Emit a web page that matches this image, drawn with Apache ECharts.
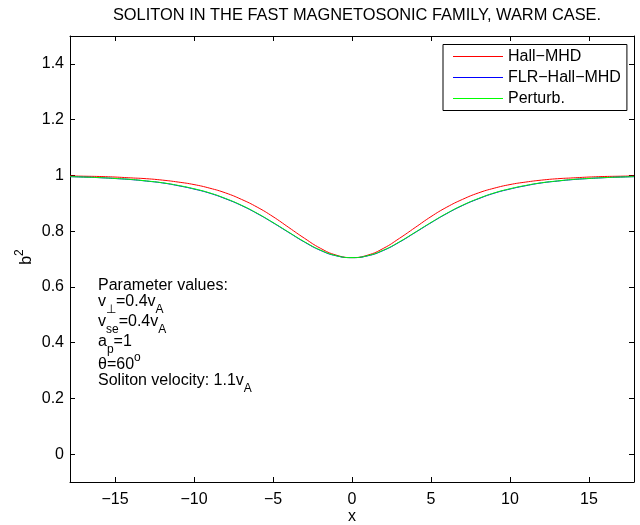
<!DOCTYPE html>
<html>
<head>
<meta charset="utf-8">
<script src="https://cdn.jsdelivr.net/npm/echarts@6/dist/echarts.min.js"></script>
<style>
html,body{margin:0;padding:0;background:#fff;}
#chart{width:640px;height:525px;}
</style>
</head>
<body>
<div id="chart"></div>
<script>
var xValues = [-17.85,-17,-16,-15,-14,-13,-12,-11,-10,-9,-8,-7,-6,-5,-4,-3,-2,-1,0,1,2,3,4,5,6,7,8,9,10,11,12,13,14,15,16,17,17.85];
var hallMHD = [0.998,0.997,0.996,0.994,0.991,0.988,0.983,0.976,0.967,0.954,0.937,0.914,0.886,0.852,0.813,0.774,0.7385,0.714,0.705,0.714,0.7385,0.774,0.813,0.852,0.886,0.914,0.937,0.954,0.967,0.976,0.983,0.988,0.991,0.994,0.996,0.997,0.998];
var flrHallMHD = [0.9954,0.9939,0.9918,0.9887,0.985,0.9795,0.973,0.963,0.951,0.936,0.916,0.892,0.863,0.830,0.795,0.7605,0.731,0.7115,0.705,0.7115,0.731,0.7605,0.795,0.830,0.863,0.892,0.916,0.936,0.951,0.963,0.973,0.9795,0.985,0.9887,0.9918,0.9939,0.9954];
var perturb = [0.9955,0.994,0.992,0.989,0.9855,0.980,0.9735,0.964,0.952,0.937,0.917,0.893,0.864,0.831,0.796,0.7615,0.732,0.712,0.705,0.712,0.732,0.7615,0.796,0.831,0.864,0.893,0.917,0.937,0.952,0.964,0.9735,0.980,0.9855,0.989,0.992,0.994,0.9955];
var xTicks = [-15,-10,-5,0,5,10,15];
var yTicks = [0,0.2,0.4,0.6,0.8,1,1.2,1.4];
var seriesNames = ['Hall\u2212MHD','FLR\u2212Hall\u2212MHD','Perturb.'];
var titleText = 'SOLITON IN THE FAST MAGNETOSONIC FAMILY, WARM CASE.';

var FONT = '"Liberation Sans", Arial, Helvetica, sans-serif';
function pairs(ys){ return xValues.map(function(x,i){ return [x, ys[i]]; }); }
function fmtX(v){ return v < 0 ? '\u2212' + (-v) : String(v); }

var chart = echarts.init(document.getElementById('chart'), null, {renderer:'canvas'});
var axisLine = {show:true, onZero:false, lineStyle:{color:'#000', width:1}};
var M = {fontSize:16, fontFamily:FONT, fill:'#000'};
var SUB = {fontSize:12, fontFamily:FONT, fill:'#000', padding:[15,0,0,0]};
var SUP = {fontSize:12, fontFamily:FONT, fill:'#000', padding:[0,0,14,0]};
var option = {
  animation:false,
  backgroundColor:'#fff',
  textStyle:{fontFamily:FONT},
  grid:{left:70, right:6, top:36, bottom:43, containLabel:false},
  legend:{
    orient:'vertical', left:443, top:44.5,
    icon:'rect', itemWidth:50, itemHeight:1, itemGap:5,
    padding:[4,6,4,10],
    borderColor:'#000', borderWidth:1, backgroundColor:'#fff',
    textStyle:{fontSize:16, color:'#000', fontFamily:FONT, lineHeight:16},
    data:seriesNames
  },
  xAxis:[{
    type:'value', min:-17.85, max:17.85, position:'bottom',
    axisLine:axisLine, splitLine:{show:false},
    axisTick:{show:true, inside:true, length:5, lineStyle:{color:'#000'}, customValues:xTicks},
    axisLabel:{show:true, margin:10, fontSize:16, color:'#000', fontFamily:FONT, customValues:xTicks, formatter:fmtX}
  },{
    type:'value', min:-17.85, max:17.85, position:'top',
    axisLine:axisLine, splitLine:{show:false},
    axisTick:{show:true, inside:true, length:5, lineStyle:{color:'#000'}, customValues:xTicks},
    axisLabel:{show:false}
  }],
  yAxis:[{
    type:'value', min:-0.1, max:1.5, position:'left',
    axisLine:axisLine, splitLine:{show:false},
    axisTick:{show:true, inside:true, length:5, lineStyle:{color:'#000'}, customValues:yTicks},
    axisLabel:{show:true, margin:6, fontSize:16, color:'#000', fontFamily:FONT, customValues:yTicks}
  },{
    type:'value', min:-0.1, max:1.5, position:'right',
    axisLine:axisLine, splitLine:{show:false},
    axisTick:{show:true, inside:true, length:5, lineStyle:{color:'#000'}, customValues:yTicks},
    axisLabel:{show:false}
  }],
  series:[
    {name:seriesNames[0], type:'line', data:pairs(hallMHD), symbol:'none', smooth:true, lineStyle:{color:'#ff0000', width:1}, itemStyle:{color:'#ff0000'}},
    {name:seriesNames[1], type:'line', data:pairs(flrHallMHD), symbol:'none', smooth:true, lineStyle:{color:'#0000ff', width:1}, itemStyle:{color:'#0000ff'}},
    {name:seriesNames[2], type:'line', data:pairs(perturb), symbol:'none', smooth:true, lineStyle:{color:'#00ff00', width:1}, itemStyle:{color:'#00ff00'}}
  ],
  graphic:[
    {type:'text', x:357, y:15, style:{text:titleText, font:'16.4px ' + FONT, fill:'#000', align:'center', verticalAlign:'middle'}},
    {type:'text', x:352, y:517, style:{text:'x', font:'16px ' + FONT, fill:'#000', align:'center', verticalAlign:'middle'}},
    {type:'text', x:27, y:257, rotation:Math.PI/2, style:{text:'{m|b}{sup|2}', fill:'#000', align:'center', verticalAlign:'middle', rich:{m:M, sup:SUP}}},
    {type:'text', x:98, y:286, style:{text:'Parameter values:', font:'16px ' + FONT, fill:'#000', align:'left', verticalAlign:'middle'}},
    {type:'text', x:98, y:302, style:{text:'{m|v}{s|\u22A5}{m|=0.4v}{s|A}', align:'left', verticalAlign:'middle', rich:{m:M, s:SUB}}},
    {type:'text', x:98, y:322, style:{text:'{m|v}{s|se}{m|=0.4v}{s|A}', align:'left', verticalAlign:'middle', rich:{m:M, s:SUB}}},
    {type:'text', x:98, y:342, style:{text:'{m|a}{s|p}{m|=1}', align:'left', verticalAlign:'middle', rich:{m:M, s:SUB}}},
    {type:'text', x:98, y:365, style:{text:'{m|\u03B8=60}{u|o}', align:'left', verticalAlign:'middle', rich:{m:M, u:SUP}}},
    {type:'text', x:98, y:381, style:{text:'{m|Soliton velocity: 1.1v}{s|A}', align:'left', verticalAlign:'middle', rich:{m:M, s:SUB}}}
  ]
};
chart.setOption(option);
</script>
</body>
</html>
